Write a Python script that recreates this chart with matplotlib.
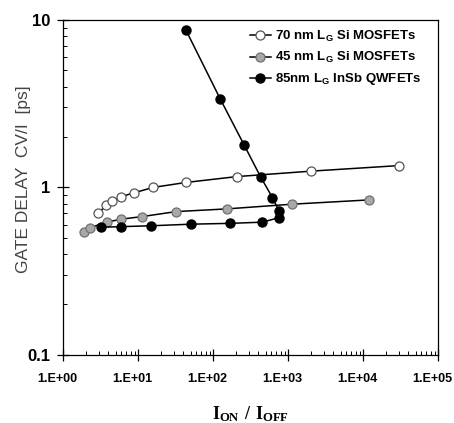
import matplotlib.pyplot as plt
from matplotlib.ticker import LogLocator, FixedLocator
from matplotlib.transforms import ScaledTranslation

# 70 nm Lg Si MOSFETs (open circles)
si70_x = [2.96, 3.71, 4.54, 5.93, 8.93, 16.0, 43.3, 207, 2010, 30500]
si70_y = [0.70, 0.78, 0.83, 0.88, 0.93, 1.00, 1.07, 1.16, 1.25, 1.35]

# 45 nm Lg Si MOSFETs (grey circles)
si45_x = [1.92, 2.29, 3.83, 5.93, 11.2, 32.1, 152, 1140, 12100]
si45_y = [0.54, 0.575, 0.62, 0.646, 0.669, 0.717, 0.744, 0.794, 0.842]

# 85 nm Lg InSb QWFETs (filled circles)
insb_x = [3.21, 5.93, 14.9, 50.4, 169, 454, 760, 760, 618, 432, 261, 125, 43.3]
insb_y = [0.578, 0.583, 0.59, 0.603, 0.61, 0.62, 0.66, 0.72, 0.87, 1.15, 1.78, 3.36, 8.71]

xticks = [1, 10, 100, 1e3, 1e4, 1e5]
xlabels = ['1.E+00', '1.E+01', '1.E+02', '1.E+03', '1.E+04', '1.E+05']
yticks = [0.1, 1, 10]
ylabels = ['0.1', '1', '10']

fig = plt.figure(figsize=(4.54, 4.23), dpi=100)
ax = fig.add_axes([0.139, 0.161, 0.826, 0.792])

ax.plot(si70_x, si70_y, '-o', color='black', lw=1.1, ms=6.5,
        mfc='white', mec='#555555', mew=0.9, label=r'70 nm L$_\mathregular{G}$ Si MOSFETs')
ax.plot(si45_x, si45_y, '-o', color='black', lw=1.1, ms=6.5,
        mfc='#a8a8a8', mec='#707070', mew=0.9, label=r'45 nm L$_\mathregular{G}$ Si MOSFETs')
ax.plot(insb_x, insb_y, '-o', color='black', lw=1.1, ms=6.5,
        mfc='black', mec='black', label=r'85nm L$_\mathregular{G}$ InSb QWFETs')

ax.set_xscale('log')
ax.set_yscale('log')
ax.set_xlim(1, 1e5)
ax.set_ylim(0.1, 10)

ax.xaxis.set_major_locator(FixedLocator(xticks))
ax.set_xticklabels(xlabels, fontsize=9, fontweight='bold', family='Liberation Sans')
ax.yaxis.set_major_locator(FixedLocator(yticks))
ax.set_yticklabels(ylabels, fontsize=12, fontweight='bold', family='Liberation Sans')
ax.xaxis.set_minor_locator(LogLocator(base=10, subs=range(2, 10)))
ax.yaxis.set_minor_locator(LogLocator(base=10, subs=range(2, 10)))
ax.xaxis.set_minor_formatter(plt.NullFormatter())
ax.yaxis.set_minor_formatter(plt.NullFormatter())

ax.tick_params(which='major', direction='inout', length=8, width=0.9)
ax.tick_params(axis='x', which='major', pad=9)
ax.tick_params(axis='y', which='major', pad=5)
ax.tick_params(which='minor', direction='in', length=3, width=0.7)

# x tick labels sit slightly left of their ticks in the original
shift = ScaledTranslation(-6 / 100, 0, fig.dpi_scale_trans)
for lab in ax.get_xticklabels():
    lab.set_transform(lab.get_transform() + shift)

for s in ax.spines.values():
    s.set_linewidth(0.9)

ax.set_ylabel('GATE DELAY  CV/I  [ps]', fontsize=12.5, color='#444444',
              family='Liberation Sans')
ax.yaxis.set_label_coords(-0.085, 0.525)
ax.set_xlabel(r'$\mathregular{I_{ON}\ /\ I_{OFF}}$', fontsize=13, fontweight='bold',
              family='Liberation Serif', labelpad=14)

leg = ax.legend(loc='upper right', frameon=False, handlelength=1.6,
                handletextpad=0.3, labelspacing=0.45, borderaxespad=0.3,
                bbox_to_anchor=(0.98, 1.0),
                prop={'family': 'Liberation Sans', 'weight': 'bold', 'size': 9.5})

fig.savefig('out.png', dpi=100)
